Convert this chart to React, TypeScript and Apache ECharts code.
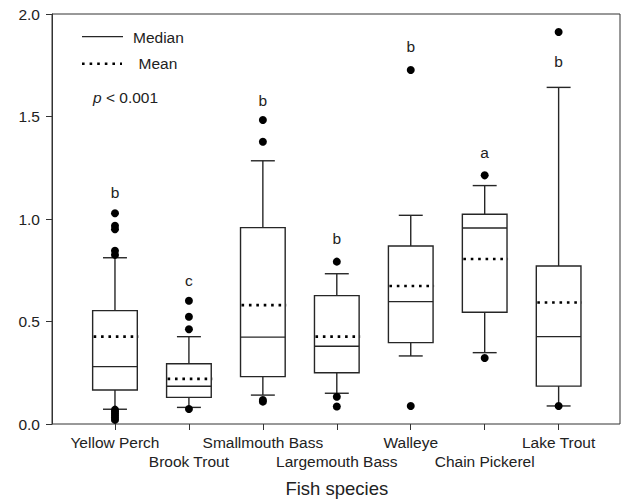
import React, { useEffect, useRef } from "react";
import * as echarts from "echarts";

const species = [
  "Yellow Perch",
  "Brook Trout",
  "Smallmouth Bass",
  "Largemouth Bass",
  "Walleye",
  "Chain Pickerel",
  "Lake Trout",
];
const q1 = [0.166, 0.13, 0.231, 0.25, 0.397, 0.545, 0.185];
const median = [0.28, 0.184, 0.424, 0.379, 0.597, 0.956, 0.426];
const q3 = [0.553, 0.294, 0.958, 0.626, 0.868, 1.023, 0.771];
const whiskerLow = [0.072, 0.081, 0.141, 0.15, 0.332, 0.348, 0.088];
const whiskerHigh = [0.811, 0.426, 1.284, 0.733, 1.018, 1.163, 1.642];
const mean = [0.426, 0.22, 0.58, 0.426, 0.673, 0.805, 0.593];
const outlierSpecies = [0, 0, 0, 0, 0, 0, 0, 0, 0, 0, 0, 1, 1, 1, 1, 2, 2, 2, 2, 3, 3, 3, 4, 4, 5, 5, 6, 6];
const outlierValues = [
  1.028, 0.967, 0.95, 0.845, 0.825, 0.07, 0.06, 0.05, 0.04, 0.03, 0.02,
  0.601, 0.523, 0.462, 0.073,
  1.483, 1.377, 0.117, 0.109,
  0.792, 0.133, 0.085,
  1.727, 0.088,
  1.213, 0.322,
  1.912, 0.088,
];
const letters = ["b", "c", "b", "b", "b", "a", "b"];
const letterValues = [1.127, 0.702, 1.58, 0.907, 1.84, 1.322, 1.767];
const yTicks = [0, 0.5, 1.0, 1.5, 2.0];

const FONT = "'Liberation Sans', Arial, sans-serif";
const INK = "#262626";

export default function App() {
  const ref = useRef<HTMLDivElement>(null);
  useEffect(() => {
    document.body.style.margin = "0";
    if (!ref.current) return;
    const chart = echarts.init(ref.current, null, { renderer: "svg" });

    const boxData = species.map((_, i) => [
      i,
      q1[i],
      median[i],
      q3[i],
      whiskerLow[i],
      whiskerHigh[i],
      mean[i],
    ]);
    const outlierData = outlierValues.map((v, k) => [outlierSpecies[k], v]);
    const letterData = letters.map((l, i) => [i, letterValues[i], l]);

    const option: any = {
      animation: false,
      backgroundColor: "#fff",
      grid: [
        {
          left: 52,
          right: 2,
          top: 14,
          bottom: 76,
          show: true,
          borderColor: "#333",
          borderWidth: 1,
          backgroundColor: "transparent",
          containLabel: false,
          outerBoundsMode: "none",
        },
        {
          left: 78,
          right: 26.4,
          top: 14,
          bottom: 76,
          containLabel: false,
          outerBoundsMode: "none",
        },
      ],
      xAxis: [
        { type: "value", gridIndex: 0, min: 0, max: 1, show: false },
        {
          type: "category",
          gridIndex: 1,
          data: species,
          boundaryGap: true,
          axisLine: { show: false },
          axisTick: {
            show: true,
            alignWithLabel: true,
            length: 6,
            lineStyle: { color: "#333", width: 1 },
          },
          axisLabel: {
            interval: 0,
            margin: 8.5,
            fontSize: 15.5,
            lineHeight: 19.5,
            fontFamily: FONT,
            color: "#222",
            formatter: (v: string) => {
              const idx = species.indexOf(v);
              return idx % 2 === 1 ? "\n" + v : v;
            },
          },
          name: "Fish species",
          nameLocation: "middle",
          nameGap: 55,
          nameTextStyle: { fontSize: 18.5, fontFamily: FONT, color: "#222" },
          splitLine: { show: false },
        },
      ],
      yAxis: [
        {
          type: "value",
          gridIndex: 0,
          min: yTicks[0],
          max: yTicks[yTicks.length - 1],
          interval: 0.5,
          axisLine: { show: true, lineStyle: { color: "#333", width: 1 } },
          axisTick: { show: true, length: 6, lineStyle: { color: "#333" } },
          axisLabel: {
            margin: 12,
            fontSize: 15.5,
            fontFamily: FONT,
            color: "#222",
            formatter: (v: number) => v.toFixed(1),
          },
          splitLine: { show: false },
        },
        {
          type: "value",
          gridIndex: 1,
          min: yTicks[0],
          max: yTicks[yTicks.length - 1],
          show: false,
          splitLine: { show: false },
        },
      ],
      series: [
        {
          type: "custom",
          xAxisIndex: 1,
          yAxisIndex: 1,
          data: boxData,
          encode: { x: 0, y: [1, 2, 3, 4, 5, 6] },
          renderItem: (params: any, api: any) => {
            const i = api.value(0);
            const band = api.size([1, 0])[0];
            const bw = band * 0.302;
            const cw = band * 0.162;
            const p1 = api.coord([i, api.value(1)]);
            const x = p1[0];
            const yQ1 = p1[1];
            const yMed = api.coord([i, api.value(2)])[1];
            const yQ3 = api.coord([i, api.value(3)])[1];
            const yLo = api.coord([i, api.value(4)])[1];
            const yHi = api.coord([i, api.value(5)])[1];
            const yMean = api.coord([i, api.value(6)])[1];
            const ls = { stroke: INK, lineWidth: 1.4, fill: "none" };
            return {
              type: "group",
              children: [
                { type: "line", shape: { x1: x, y1: yQ3, x2: x, y2: yHi }, style: ls },
                { type: "line", shape: { x1: x, y1: yQ1, x2: x, y2: yLo }, style: ls },
                { type: "line", shape: { x1: x - cw, y1: yHi, x2: x + cw, y2: yHi }, style: ls },
                { type: "line", shape: { x1: x - cw, y1: yLo, x2: x + cw, y2: yLo }, style: ls },
                {
                  type: "rect",
                  shape: { x: x - bw, y: yQ3, width: 2 * bw, height: yQ1 - yQ3 },
                  style: { stroke: INK, lineWidth: 1.4, fill: "#fff" },
                },
                { type: "line", shape: { x1: x - bw, y1: yMed, x2: x + bw, y2: yMed }, style: ls },
                {
                  type: "line",
                  shape: { x1: x - bw + 1, y1: yMean, x2: x + bw + 1, y2: yMean },
                  style: { stroke: "#000", lineWidth: 2.6, lineDash: [2.6, 4.8], fill: "none" },
                },
              ],
            };
          },
          z: 2,
        },
        {
          type: "scatter",
          xAxisIndex: 1,
          yAxisIndex: 1,
          data: outlierData,
          symbol: "circle",
          symbolSize: 8,
          itemStyle: { color: "#000", opacity: 1 },
          z: 3,
        },
        {
          type: "custom",
          xAxisIndex: 1,
          yAxisIndex: 1,
          data: letterData,
          encode: { x: 0, y: 1 },
          renderItem: (params: any, api: any) => {
            const idx = params.dataIndex;
            const p = api.coord([api.value(0), api.value(1)]);
            return {
              type: "text",
              x: p[0],
              y: p[1],
              style: {
                text: letters[idx],
                fill: "#222",
                fontSize: 15.5,
                fontFamily: FONT,
                align: "center",
                verticalAlign: "middle",
                textAlign: "center",
                textVerticalAlign: "middle",
              },
            };
          },
          z: 3,
        },
      ],
      graphic: [
        {
          type: "line",
          shape: { x1: 82, y1: 36.7, x2: 123, y2: 36.7 },
          style: { stroke: INK, lineWidth: 1.2 },
        },
        {
          type: "text",
          x: 133,
          y: 37,
          style: {
            text: "Median",
            fontSize: 15.5,
            fontFamily: FONT,
            fill: "#222",
            verticalAlign: "middle",
            textVerticalAlign: "middle",
          },
        },
        {
          type: "line",
          shape: { x1: 82, y1: 63.7, x2: 122, y2: 63.7 },
          style: { stroke: "#000", lineWidth: 2.6, lineDash: [2.6, 5] },
        },
        {
          type: "text",
          x: 138.5,
          y: 63.5,
          style: {
            text: "Mean",
            fontSize: 15.5,
            fontFamily: FONT,
            fill: "#222",
            verticalAlign: "middle",
            textVerticalAlign: "middle",
          },
        },
        {
          type: "text",
          x: 93,
          y: 97.5,
          style: {
            text: "{i|p} < 0.001",
            fontSize: 15.5,
            fontFamily: FONT,
            fill: "#222",
            verticalAlign: "middle",
            textVerticalAlign: "middle",
            rich: {
              i: { fontStyle: "italic", fontSize: 15.5, fontFamily: FONT, fill: "#222" },
            },
          },
        },
      ],
    };
    chart.setOption(option);
    return () => chart.dispose();
  }, []);
  return (
    <div
      ref={ref}
      style={{ width: 622, height: 500, position: "fixed", left: 0, top: 0 }}
    />
  );
}
